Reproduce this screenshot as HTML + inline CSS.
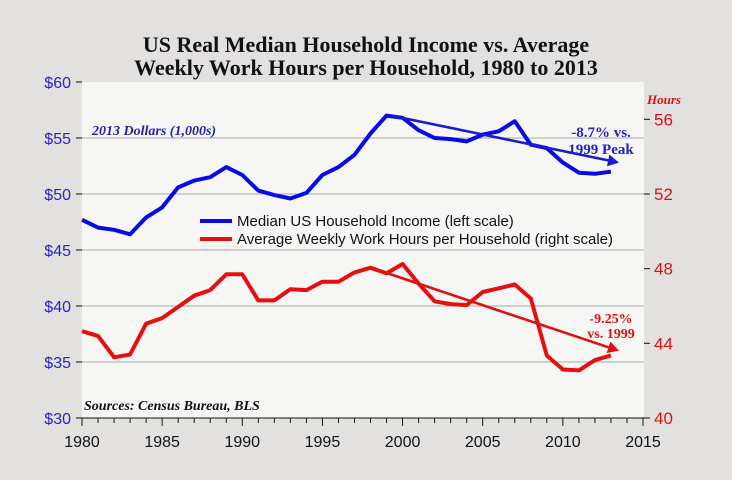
<!DOCTYPE html>
<html><head><meta charset="utf-8"><style>
html,body{margin:0;padding:0;background:#e3e1df;}
svg{display:block;}
</style></head><body>
<svg width="732" height="480" xmlns="http://www.w3.org/2000/svg">
<rect x="0" y="0" width="732" height="480" fill="#e3e1df"/>
<rect x="82" y="82" width="562" height="336" fill="#f6f6f5"/>
<g font-family="'Liberation Serif',serif" font-weight="bold" font-size="22" text-anchor="middle" fill="#111">
<text x="366" y="52">US Real Median Household Income vs. Average</text>
<text x="366" y="75">Weekly Work Hours per Household, 1980 to 2013</text>
</g>
<g id="grid"></g>
<g id="axes"></g>
<g id="series"></g>
<text x="92" y="135" font-family="'Liberation Serif',serif" font-style="italic" font-weight="bold" font-size="14" fill="#2222aa">2013 Dollars (1,000s)</text>
<text x="84" y="410" font-family="'Liberation Serif',serif" font-style="italic" font-weight="bold" font-size="14" fill="#111">Sources: Census Bureau, BLS</text>
<text x="647" y="104" font-family="'Liberation Serif',serif" font-style="italic" font-weight="bold" font-size="13" fill="#dd1111">Hours</text>
<g font-family="'Liberation Serif',serif" font-weight="bold" font-size="15" text-anchor="middle" fill="#2222cc">
<text x="601" y="137">-8.7% vs.</text><text x="601" y="154">1999 Peak</text></g>
<g font-family="'Liberation Serif',serif" font-weight="bold" font-size="14" text-anchor="middle" fill="#dd1111">
<text x="611" y="323">-9.25%</text><text x="611" y="338">vs. 1999</text></g>
<g font-family="'Liberation Sans',sans-serif" font-size="15" fill="#111">
<line x1="200" y1="221" x2="232" y2="221" stroke="#0a0ae6" stroke-width="4"/>
<text x="237" y="226">Median US Household Income (left scale)</text>
<line x1="200" y1="239" x2="232" y2="239" stroke="#e60f0f" stroke-width="4"/>
<text x="237" y="244">Average Weekly Work Hours per Household (right scale)</text>
</g>
</svg>
<script>
const years=[1980,1981,1982,1983,1984,1985,1986,1987,1988,1989,1990,1991,1992,1993,1994,1995,1996,1997,1998,1999,2000,2001,2002,2003,2004,2005,2006,2007,2008,2009,2010,2011,2012,2013];
const income=[47.7,47.0,46.8,46.4,47.9,48.8,50.6,51.2,51.5,52.4,51.7,50.3,49.9,49.6,50.1,51.7,52.4,53.5,55.4,57.0,56.8,55.7,55.0,54.9,54.7,55.3,55.6,56.5,54.4,54.1,52.8,51.9,51.8,52.0];
const hours=[44.65,44.4,43.25,43.4,45.05,45.35,45.95,46.55,46.85,47.7,47.7,46.3,46.3,46.9,46.85,47.3,47.3,47.8,48.05,47.75,48.25,47.2,46.25,46.1,46.05,46.75,46.95,47.15,46.4,43.35,42.6,42.55,43.1,43.35];
const leftTicks=[30,35,40,45,50,55,60];
const rightTicks=[40,44,48,52,56];
const xTicks=[1980,1985,1990,1995,2000,2005,2010,2015];
const incomeTrend=[[1999.3,57.0],[2013.5,52.8]];
const hoursTrend=[[1998.9,47.8],[2013.5,43.6]];
const NS='http://www.w3.org/2000/svg';
const X=y=>82+(y-1980)*(561/35);
const YL=v=>418-(v-30)*(336/30);
const YR=v=>418-(v-40)*(336/18);
function mk(tag,attrs,parent){const e=document.createElementNS(NS,tag);for(const k in attrs)e.setAttribute(k,attrs[k]);parent.appendChild(e);return e;}
const grid=document.getElementById('grid'),axes=document.getElementById('axes'),series=document.getElementById('series');
leftTicks.forEach(v=>{
  if(v>30&&v<60){const g=mk('line',{x1:82,x2:644,y1:YL(v),y2:YL(v),stroke:'#a8a8a8','stroke-width':1},grid);
  
  }
  const t=mk('line',{x1:76,x2:82,y1:YL(v),y2:YL(v),stroke:'#111'},axes);
  
  
  const l=mk('text',{x:71,y:YL(v)+6,'text-anchor':'end','font-family':"'Liberation Sans',sans-serif",'font-size':16,fill:'#2a1fc8'},axes);
  l.textContent='$'+v;
  
  
});
rightTicks.forEach(v=>{
  const t=mk('line',{x1:644,x2:650,y1:YR(v),y2:YR(v),stroke:'#111'},axes);
  
  
  const l=mk('text',{x:654,y:YR(v)+6,'font-family':"'Liberation Sans',sans-serif",'font-size':17,fill:'#dd1111'},axes);
  l.textContent=v;
  
  
});
const ax=mk('line',{x1:82,x2:644,y1:418,y2:418,stroke:'#111'},axes);


for(let y=1980;y<=2015;y++){
  const major=(y%5===0);
  const t=mk('line',{x1:X(y),x2:X(y),y1:418,y2:major?426:423,stroke:'#111'},axes);
  
  
}
xTicks.forEach(y=>{
  const l=mk('text',{x:X(y),y:447,'text-anchor':'middle','font-family':"'Liberation Sans',sans-serif",'font-size':16,fill:'#111'},axes);
  l.textContent=y;
  
  
});
function trend(pts,scale,color,name){
  const [a,b]=pts;const x1=X(a[0]),y1=scale(a[1]),x2=X(b[0]),y2=scale(b[1]);
  const ang=Math.atan2(y2-y1,x2-x1);const L=11,W=6;
  const bx=x2-L*Math.cos(ang),by=y2-L*Math.sin(ang);
  const ln=mk('line',{x1:x1,y1:y1,x2:bx,y2:by,stroke:color,'stroke-width':2.6},series);
  
  
  const p=mk('polygon',{points:`${x2},${y2} ${bx-W*Math.sin(ang)},${by+W*Math.cos(ang)} ${bx+W*Math.sin(ang)},${by-W*Math.cos(ang)}`,fill:color},series);
  
  
}
function line(vals,scale,color,name){
  const d=vals.map((v,i)=>(i?'L':'M')+X(years[i]).toFixed(1)+','+scale(v).toFixed(1)).join(' ');
  const p=mk('path',{d:d,fill:'none',stroke:color,'stroke-width':4,'stroke-linejoin':'round'},series);
  
  
}
line(income,YL,'#0a0ae6','income-line');
line(hours,YR,'#e60f0f','hours-line');
trend(incomeTrend,YL,'#1a1ad0','income-trend-arrow');
trend(hoursTrend,YR,'#dd1111','hours-trend-arrow');
</script>
</body></html>
